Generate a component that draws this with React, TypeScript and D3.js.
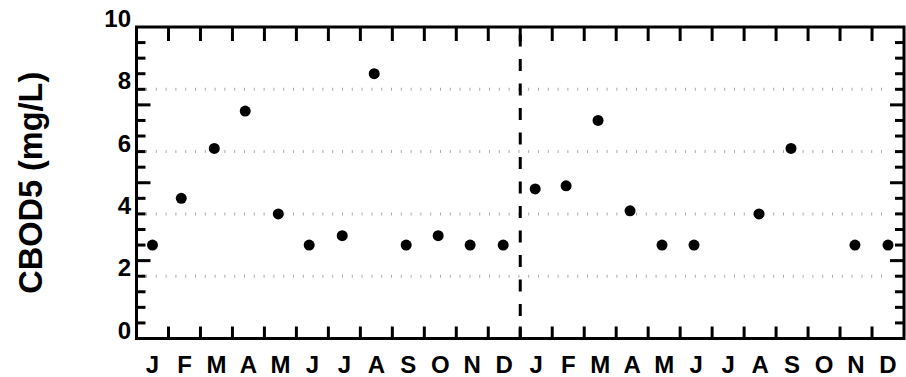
import * as d3 from 'd3';

// Month labels along the x axis (two years)
const months = ['J', 'F', 'M', 'A', 'M', 'J', 'J', 'A', 'S', 'O', 'N', 'D',
  'J', 'F', 'M', 'A', 'M', 'J', 'J', 'A', 'S', 'O', 'N', 'D'];
// Day of month of each sample (null = no sample that month)
const sampleDay: (number | null)[] = [15, 12, 13, 12, 13, 12, 13, 13, 13, 13, 13, 14,
  14, 13, 13, 13, 13, 13, null, 14, 14, null, 14, 15];
// CBOD5 in mg/L
const cbod5: (number | null)[] = [3.0, 4.5, 6.1, 7.3, 4.0, 3.0, 3.3, 8.5, 3.0, 3.3, 3.0, 3.0,
  4.8, 4.9, 7.0, 4.1, 3.0, 3.0, null, 4.0, 6.1, null, 3.0, 3.0];
const yTickLabels = [0, 2, 4, 6, 8, 10];
const gridValues = [2, 4, 6, 8];
const majorTicks = [2.5, 5, 7.5];

const W = 906;
const H = 377;
const FONT = '"Liberation Sans", Arial, Helvetica, sans-serif';

export default function App() {
  const x = d3.scaleLinear().domain([0, months.length]).range([136.5, 904]);
  const y = d3.scaleLinear().domain([0, 10]).range([338.5, 27]);
  const [x0, x1] = x.range();
  const [y0, y1] = y.range();

  const minorTicks = d3.range(0.5, 10, 0.5).filter(v => !majorTicks.includes(v));
  const boundaries = d3.range(1, months.length);
  const points = cbod5
    .map((v, i) => ({ v, i, day: sampleDay[i] }))
    .filter(d => d.v != null && d.day != null);

  return (
    <svg width={W} height={H} style={{ position: 'absolute', left: 0, top: 0, background: '#fff' }}>
      {/* gridlines */}
      {gridValues.map(v => (
        <line key={'g' + v} x1={146} x2={890} y1={y(v)} y2={y(v)}
          stroke="#aaa" strokeWidth={3} strokeDasharray="1 8.8" />
      ))}

      {/* year divider */}
      <line x1={x(12)} x2={x(12)} y1={y1} y2={y0} stroke="#000" strokeWidth={3}
        strokeDasharray="12 12.5" strokeDashoffset={17} />

      {/* y ticks, both sides, pointing inward */}
      {minorTicks.map(v => (
        <g key={'m' + v} stroke="#000" strokeWidth={3}>
          <line x1={x0} x2={x0 + 9} y1={y(v)} y2={y(v)} />
          <line x1={x1} x2={x1 - 9} y1={y(v)} y2={y(v)} />
        </g>
      ))}
      {majorTicks.map(v => (
        <g key={'M' + v} stroke="#000" strokeWidth={3}>
          <line x1={x0} x2={x0 + 14} y1={y(v)} y2={y(v)} />
          <line x1={x1} x2={x1 - 14} y1={y(v)} y2={y(v)} />
        </g>
      ))}

      {/* month boundary ticks, top and bottom */}
      {boundaries.map(b => (
        <g key={'b' + b} stroke="#000" strokeWidth={3}>
          <line x1={x(b)} x2={x(b)} y1={y0} y2={y0 - 12} />
          <line x1={x(b)} x2={x(b)} y1={y1} y2={y1 + 14} />
        </g>
      ))}

      {/* frame */}
      <rect x={x0} y={y1} width={x1 - x0} height={y0 - y1} fill="none" stroke="#000" strokeWidth={3} />

      {/* points */}
      {points.map(d => (
        <circle key={'p' + d.i} cx={x(d.i + (d.day as number) / 30)} cy={y(d.v as number)} r={5.5} fill="#000" />
      ))}

      {/* y tick labels */}
      {yTickLabels.map(v => (
        <text key={'yl' + v} x={131} y={y(v)} textAnchor="end" fontFamily={FONT}
          fontWeight="bold" fontSize={24} fill="#000">{v}</text>
      ))}

      {/* month labels */}
      {months.map((m, i) => (
        <text key={'ml' + i} x={x(i + 0.5)} y={373} textAnchor="middle" fontFamily={FONT}
          fontWeight="bold" fontSize={24} fill="#000">{m}</text>
      ))}

      {/* y title */}
      <text transform={`translate(42,${(y0 + y1) / 2}) rotate(-90)`} textAnchor="middle"
        fontFamily={FONT} fontWeight="bold" fontSize={32.5} fill="#000">CBOD5 (mg/L)</text>
    </svg>
  );
}
